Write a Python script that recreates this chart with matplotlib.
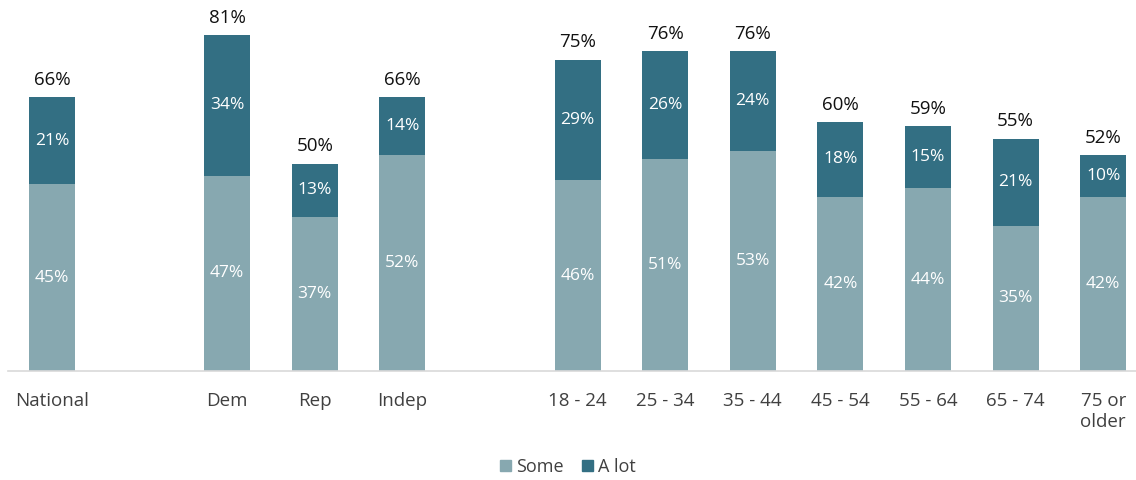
import matplotlib
matplotlib.use("Agg")
import matplotlib.pyplot as plt
from matplotlib.patches import Patch

plt.rcParams['font.family'] = ['Open Sans', 'DejaVu Sans']

categories = ["National", "Dem", "Rep", "Indep", "18 - 24", "25 - 34", "35 - 44",
              "45 - 54", "55 - 64", "65 - 74", "75 or\nolder"]
slots = [0, 2, 3, 4, 6, 7, 8, 9, 10, 11, 12]
some = [45, 47, 37, 52, 46, 51, 53, 42, 44, 35, 42]
a_lot = [21, 34, 13, 14, 29, 26, 24, 18, 15, 21, 10]
totals = [66, 81, 50, 66, 75, 76, 76, 60, 59, 55, 52]

c_some = "#87a8b0"
c_alot = "#336f83"

W, H = 1136, 480
fig = plt.figure(figsize=(W / 100, H / 100), dpi=100)
slot_px = 87.6
x0_px = 52
left_px = 8
base_px = 371
ax = fig.add_axes([left_px / W, (H - base_px) / H, (W - left_px) / W, base_px / H])
ax.set_xlim(-(x0_px - left_px) / slot_px, (W - x0_px) / slot_px)
ax.set_ylim(0, base_px / 4.15)

bw = 0.525
ax.bar(slots, some, width=bw, color=c_some, label="Some")
ax.bar(slots, a_lot, width=bw, bottom=some, color=c_alot, label="A lot")

for x, s, a, t in zip(slots, some, a_lot, totals):
    ax.text(x, s / 2, f"{s}%", ha="center", va="center", color="white", fontsize=12.5)
    ax.text(x, s + a / 2, f"{a}%", ha="center", va="center", color="white", fontsize=12.5)
    ax.text(x, s + a + 2.0, f"{t}%", ha="center", va="bottom", color="#111111", fontsize=13.5)

for side in ["top", "right", "left"]:
    ax.spines[side].set_visible(False)
ax.spines["bottom"].set_color("#d9d9d9")
ax.spines["bottom"].set_linewidth(1.2)
ax.set_yticks([])
ax.set_xticks(slots)
ax.set_xticklabels(categories, fontsize=13.5, color="#404040", va="top", linespacing=1.25)
ax.tick_params(axis="x", length=0, pad=15)

handles = [Patch(color=c_some, label="Some"), Patch(color=c_alot, label="A lot")]
fig.legend(handles=handles, loc="center", bbox_to_anchor=(568 / W, 1 - 467 / H), ncol=2,
           frameon=False, fontsize=13, handlelength=0.6, handleheight=0.6,
           handletextpad=0.3, columnspacing=1.0, labelcolor="#404040")

fig.savefig("out.png", dpi=100)
